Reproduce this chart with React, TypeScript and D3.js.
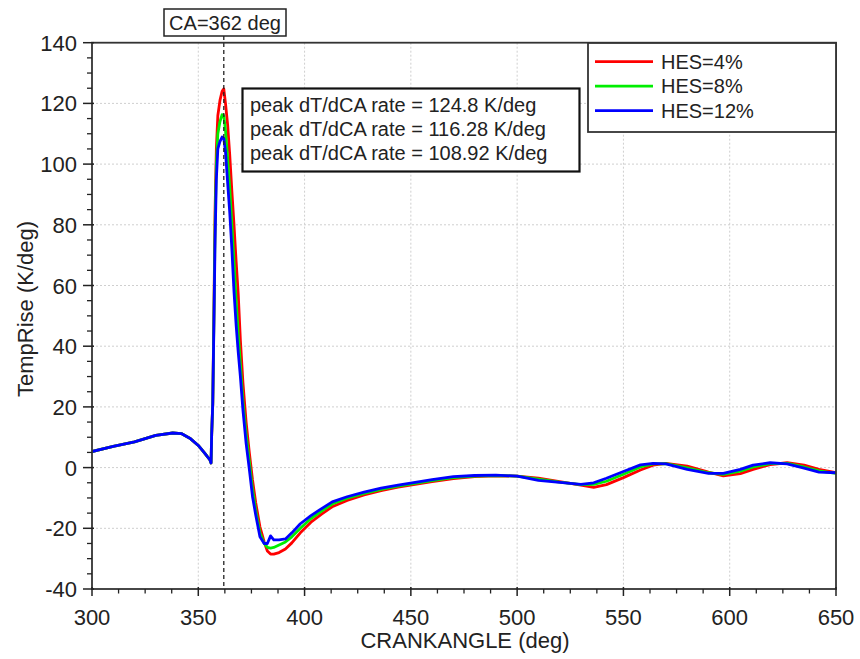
import React from "react";
import * as d3 from "d3";

const crankAngle = [300, 310, 320, 330, 338, 342, 346, 350, 353, 355.5, 356, 356.3, 356.8, 357.3, 357.9, 358.5, 359.2, 360.2, 361.2, 362, 362.8, 363.8, 364.8, 365.8, 366.8, 367.8, 368.8, 369.8, 371, 372.5, 374, 375.5, 377, 379, 381, 382.5, 384, 385.5, 388, 391, 394, 398, 403, 408, 413, 420, 428, 436, 444, 452, 460, 470, 480, 490, 500, 510, 520, 530, 536, 542, 550, 558, 564, 570, 580, 590, 597, 605, 611, 619, 627, 635, 642, 650];

const hes4 = [5.3, 7, 8.5, 10.6, 11.4, 11.2, 9.7, 7.3, 4.8, 2.5, 1.5, 11, 21, 48, 85, 105, 116, 121, 124, 124.8, 120, 113, 103, 91, 80, 68, 57, 42, 28, 15, 5, -4, -11.5, -19.5, -24.5, -27.5, -28.5, -28.5, -28, -26.8, -24.8, -21.5, -18, -15.3, -12.9, -10.8, -9, -7.6, -6.4, -5.5, -4.6, -3.6, -3, -2.7, -2.8, -3.5, -4.6, -5.8, -6.5, -5.6, -3.3, -0.8, 0.8, 1.4, 0.5, -1.5, -2.7, -2, -0.6, 1, 1.6, 0.8, -0.6, -1.7];

const hes8 = [5.3, 7, 8.5, 10.6, 11.4, 11.2, 9.7, 7.3, 4.8, 2.5, 1.5, 11, 21, 46, 80, 100, 110, 114, 116.28, 116, 111, 102, 92, 80, 68, 55, 44, 34, 22, 11, 2, -7, -14, -21.5, -25, -26.3, -26.5, -26.3, -25.5, -24.5, -22.8, -20, -16.8, -14.3, -12, -10.1, -8.5, -7.2, -6.1, -5.2, -4.3, -3.3, -2.8, -2.6, -2.8, -3.8, -4.8, -5.6, -5.5, -4.5, -2.2, 0.2, 1.2, 1.3, -0.1, -1.7, -2.2, -1.2, 0.2, 1.3, 1.4, 0.2, -1.1, -1.9];

const hes12 = [5.3, 7, 8.5, 10.6, 11.4, 11.2, 9.7, 7.3, 4.8, 2.5, 1.5, 11, 21, 45, 75, 95, 105, 107.5, 108.92, 108.5, 104, 94, 84, 72, 58, 47, 38, 30, 19, 8, -0.5, -9.5, -15.5, -22.8, -25, -25, -22.5, -23.8, -23.8, -23.5, -21.5, -18.5, -15.8, -13.5, -11.3, -9.6, -8.1, -6.8, -5.8, -4.9, -4, -3, -2.6, -2.5, -2.8, -4.2, -4.9, -5.5, -5, -3.5, -1.3, 0.9, 1.4, 1.2, -0.6, -1.9, -1.9, -0.6, 0.8, 1.6, 1.2, -0.2, -1.5, -1.7];

const seriesNames = ["HES=4%", "HES=8%", "HES=12%"];
const seriesColors = ["#ff0000", "#00ee00", "#0000ff"];
const peakLabels = [
  "peak dT/dCA rate = 124.8 K/deg",
  "peak dT/dCA rate = 116.28 K/deg",
  "peak dT/dCA rate = 108.92 K/deg",
];
const xTicks = [300, 350, 400, 450, 500, 550, 600, 650];
const yTicks = [-40, -20, 0, 20, 40, 60, 80, 100, 120, 140];
const markerCA = 362;

const FONT = "'Liberation Sans', Arial, sans-serif";

export default function App() {
  const left = 92, right = 836, top = 42.7, bottom = 589;
  const x = d3.scaleLinear().domain([300, 650]).range([left, right]);
  const y = d3.scaleLinear().domain([-40, 140]).range([bottom, top]);
  const allSeries = [hes4, hes8, hes12];
  const line = d3
    .line<number>()
    .x((_, i) => x(crankAngle[i]))
    .y((d) => y(d));

  const xMinor = d3.range(300, 650.01, 12.5).filter((v) => !xTicks.includes(v));
  const yMinor = d3.range(-40, 140.01, 5).filter((v) => !yTicks.includes(v));
  const mx = x(markerCA);

  return (
    <svg
      width={860}
      height={659}
      style={{ position: "absolute", left: 0, top: 0, background: "#fff" }}
      fontFamily={FONT}
    >
      <defs>
        <clipPath id="plotclip">
          <rect x={left} y={top} width={right - left} height={bottom - top} />
        </clipPath>
      </defs>
      {xTicks.slice(1, -1).map((t) => (
        <line key={"gx" + t} x1={x(t)} x2={x(t)} y1={top} y2={bottom} stroke="#cfcfcf" strokeDasharray="2,2" />
      ))}
      {yTicks.slice(1, -1).map((t) => (
        <line key={"gy" + t} x1={left} x2={right} y1={y(t)} y2={y(t)} stroke="#cfcfcf" strokeDasharray="2,2" />
      ))}
      <g clipPath="url(#plotclip)">
        {allSeries.map((s, i) => (
          <path key={i} d={line(s) || ""} fill="none" stroke={seriesColors[i]} strokeWidth={2.8} strokeLinejoin="round" />
        ))}
      </g>
      <line x1={mx} x2={mx} y1={36} y2={bottom} stroke="#222" strokeWidth={1.3} strokeDasharray="4,3" />
      <rect x={left} y={top} width={right - left} height={bottom - top} fill="none" stroke="#333" strokeWidth={1.8} />
      {xTicks.map((t) => (
        <g key={"xt" + t}>
          <line x1={x(t)} x2={x(t)} y1={bottom - 2} y2={bottom + 7} stroke="#222" strokeWidth={1.5} />
          <text x={x(t)} y={625} textAnchor="middle" fontSize={22} fill="#222">
            {t}
          </text>
        </g>
      ))}
      {xMinor.map((t) => (
        <line key={"xm" + t} x1={x(t)} x2={x(t)} y1={bottom} y2={bottom + 4.5} stroke="#222" strokeWidth={1.3} />
      ))}
      {yTicks.map((t) => (
        <g key={"yt" + t}>
          <line x1={left - 9} x2={left + 2} y1={y(t)} y2={y(t)} stroke="#222" strokeWidth={1.5} />
          <text x={77} y={y(t) + 8} textAnchor="end" fontSize={22} fill="#222">
            {t}
          </text>
        </g>
      ))}
      {yMinor.map((t) => (
        <line key={"ym" + t} x1={left - 5} x2={left} y1={y(t)} y2={y(t)} stroke="#222" strokeWidth={1.3} />
      ))}
      <text x={465} y={648} textAnchor="middle" fontSize={22} fill="#222">
        CRANKANGLE (deg)
      </text>
      <text transform="translate(33,309) rotate(-90)" textAnchor="middle" fontSize={22} fill="#222">
        TempRise (K/deg)
      </text>
      <rect x={164} y={9} width={122} height={27} fill="#fff" stroke="#222" strokeWidth={1.5} />
      <text x={225} y={29.5} textAnchor="middle" fontSize={20} fill="#222">
        CA={markerCA} deg
      </text>
      <rect x={242.5} y={88.5} width={337} height={83} fill="#fff" stroke="#111" strokeWidth={2.2} />
      {peakLabels.map((s, i) => (
        <text key={s} x={250} y={112 + i * 24} fontSize={20} fill="#222">
          {s}
        </text>
      ))}
      <rect x={588} y={43} width={248} height={89} fill="#fff" stroke="#333" strokeWidth={1.8} />
      {seriesNames.map((n, i) => (
        <g key={n}>
          <line x1={595} x2={653} y1={61.7 + i * 24.5} y2={61.7 + i * 24.5} stroke={seriesColors[i]} strokeWidth={2.8} />
          <text x={661} y={68.5 + i * 24.5} fontSize={20} fill="#222">
            {n}
          </text>
        </g>
      ))}
    </svg>
  );
}
